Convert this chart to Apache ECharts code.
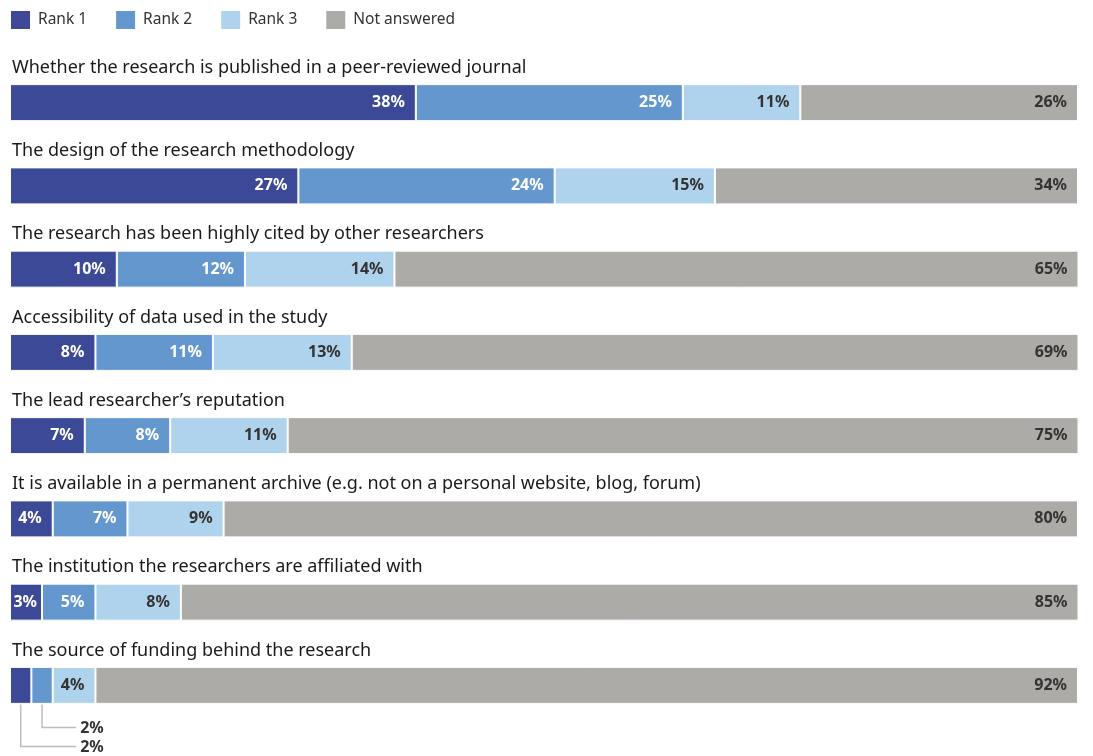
<!DOCTYPE html>
<html>
<head>
<meta charset="utf-8">
<script src="https://cdn.jsdelivr.net/npm/echarts@6/dist/echarts.min.js"></script>
<style>
  html, body { margin: 0; padding: 0; background: #fff; }
  #chart { width: 1093px; height: 756px; }
</style>
</head>
<body>
<div id="chart"></div>
<script>
// Factors ranked when judging research, share of respondents (%)
const categories = [
  'Whether the research is published in a peer-reviewed journal',
  'The design of the research methodology',
  'The research has been highly cited by other researchers',
  'Accessibility of data used in the study',
  'The lead researcher\u2019s reputation',
  'It is available in a permanent archive (e.g. not on a personal website, blog, forum)',
  'The institution the researchers are affiliated with',
  'The source of funding behind the research'
];
const rank1 = [38, 27, 10, 8, 7, 4, 3, 2];
const rank2 = [25, 24, 12, 11, 8, 7, 5, 2];
const rank3 = [11, 15, 14, 13, 11, 9, 8, 4];
const notAnswered = [26, 34, 65, 69, 75, 80, 85, 92];

const seriesNames = ['Rank 1', 'Rank 2', 'Rank 3', 'Not answered'];
const seriesData = [rank1, rank2, rank3, notAnswered];
const colors = ['#3b4996', '#6597cf', '#afd3ec', '#adaba7'];
const labelColors = ['#ffffff', '#ffffff', '#333333', '#333333'];
const FONT = '"Noto Sans", "Open Sans", sans-serif';
const MIN_INSIDE = 3; // smaller segments get an external callout

const chart = echarts.init(document.getElementById('chart'));

const barSeries = seriesNames.map((name, s) => ({
  name: name,
  type: 'bar',
  stack: 'total',
  barWidth: 37,
  // narrow segments pull their label closer to the right edge
  data: seriesData[s].map(v => (v <= 3 ? { value: v, label: { distance: 5 } } : v)),
  itemStyle: { color: colors[s], borderColor: '#ffffff', borderWidth: 1 },
  emphasis: { disabled: true },
  label: {
    show: true,
    position: 'insideRight',
    distance: 11,
    color: labelColors[s],
    fontFamily: FONT,
    fontWeight: 'bold',
    fontSize: 16,
    formatter: p => (p.value >= MIN_INSIDE ? p.value + '%' : '')
  }
}));

// Callouts for segments too narrow to hold their own label
const calloutData = [];
categories.forEach((c, row) => {
  let start = 0;
  const small = [];
  for (let s = 0; s < 3; s++) {
    const v = seriesData[s][row];
    if (v < MIN_INSIDE) small.push([start, v, row]);
    start += v;
  }
  // the leftmost segment gets the deepest drop
  small.forEach((d, i) => calloutData.push(d.concat([small.length - 1 - i])));
});

const calloutSeries = {
  type: 'custom',
  silent: true,
  clip: false,
  data: calloutData,
  renderItem: (params, api) => {
    const start = api.value(0), v = api.value(1), row = api.value(2), level = api.value(3);
    const c = api.coord([start + v / 2, row]);
    const yBottom = c[1] + 19;
    const yEnd = c[1] + 42 + level * 19;
    const xEnd = api.coord([6.2, row])[0];
    return {
      type: 'group',
      children: [
        {
          type: 'polyline',
          shape: { points: [[c[0], yBottom], [c[0], yEnd], [xEnd, yEnd]] },
          style: { stroke: '#bdbdbd', lineWidth: 1.5, fill: null }
        },
        {
          type: 'text',
          style: {
            x: xEnd + 4, y: yEnd + 1,
            text: v + '%',
            fill: '#333333',
            font: 'bold 16px ' + FONT,
            verticalAlign: 'middle',
            align: 'left'
          }
        }
      ]
    };
  }
};

chart.setOption({
  animation: false,
  color: colors,
  legend: {
    left: 4,
    top: 4,
    icon: 'rect',
    itemWidth: 21,
    itemHeight: 20,
    itemGap: 27,
    data: seriesNames,
    selectedMode: false,
    textStyle: { fontFamily: FONT, fontSize: 15.5, color: '#333333', padding: [0, 0, 0, 2] }
  },
  grid: { left: 10, right: 15, top: 61, bottom: 29 },
  xAxis: {
    type: 'value',
    min: 0,
    max: 100,
    show: false
  },
  yAxis: {
    type: 'category',
    inverse: true,
    data: categories,
    axisLine: { show: false },
    axisTick: { show: false },
    axisLabel: {
      inside: true,
      margin: 2,
      align: 'left',
      verticalAlign: 'bottom',
      padding: [0, 0, 26, 0],
      fontFamily: FONT,
      fontSize: 18,
      color: '#1a1a1a'
    }
  },
  series: barSeries.concat([calloutSeries])
});
</script>
</body>
</html>
